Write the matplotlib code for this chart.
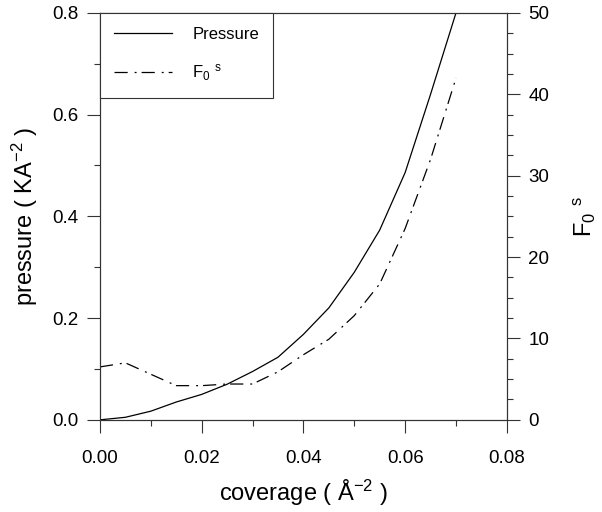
import matplotlib
matplotlib.use("Agg")
import matplotlib.pyplot as plt
from matplotlib.ticker import MultipleLocator, FormatStrFormatter

plt.rcParams['font.family'] = ['Liberation Sans', 'DejaVu Sans']
plt.rcParams['mathtext.fontset'] = 'custom'
plt.rcParams['mathtext.rm'] = 'Liberation Sans'
plt.rcParams['mathtext.it'] = 'Liberation Sans'
plt.rcParams['mathtext.default'] = 'regular'
plt.rcParams['lines.scale_dashes'] = False

coverage = [0.0, 0.005, 0.01, 0.015, 0.02, 0.025, 0.03, 0.035, 0.04, 0.045, 0.05, 0.055, 0.06, 0.065, 0.07]
pressure = [0.0, 0.005, 0.017, 0.035, 0.050, 0.070, 0.095, 0.123, 0.168, 0.220, 0.290, 0.373, 0.486, 0.640, 0.800]
f0s = [6.5, 7.0, 5.6, 4.2, 4.2, 4.4, 4.4, 5.9, 8.0, 9.9, 12.8, 16.7, 23.5, 32.0, 42.0]

fig = plt.figure(figsize=(6.02, 5.12), dpi=100)
ax = fig.add_axes([0.166, 0.180, 0.676, 0.795])
ax2 = ax.twinx()

lc = '#333333'
l1, = ax.plot(coverage, pressure, color='black', lw=0.9, label='Pressure')
l2, = ax2.plot(coverage, f0s, color='black', lw=0.9, dashes=(9.5, 5, 1.4, 3.6), label='F$_0$ $^s$')

ax.set_xlim(0, 0.08)
ax.set_ylim(0, 0.8)
ax2.set_ylim(0, 50)

ax.xaxis.set_major_locator(MultipleLocator(0.02))
ax.xaxis.set_minor_locator(MultipleLocator(0.01))
ax.xaxis.set_major_formatter(FormatStrFormatter('%.2f'))
ax.yaxis.set_major_locator(MultipleLocator(0.2))
ax.yaxis.set_minor_locator(MultipleLocator(0.1))
ax.yaxis.set_major_formatter(FormatStrFormatter('%.1f'))
ax2.yaxis.set_major_locator(MultipleLocator(10))
ax2.yaxis.set_minor_locator(MultipleLocator(2.5))

for a in (ax, ax2):
    a.tick_params(which='major', direction='out', length=9.5, width=0.8, color=lc, labelsize=13.5, pad=6)
    a.tick_params(which='minor', direction='out', length=4.5, width=0.8, color=lc)
    for s in a.spines.values():
        s.set_color(lc)
        s.set_linewidth(0.8)
ax.tick_params(axis='x', pad=12)

ax.set_xlabel('coverage ( Å$^{-2}$ )', fontsize=17, labelpad=8)
ax.set_ylabel('pressure ( KA$^{-2}$ )', fontsize=17, labelpad=9)
ax2.set_ylabel('F$_0$ $^s$', fontsize=17, labelpad=16)

leg = ax2.legend(handles=[l1, l2], loc='upper left', borderaxespad=0, fancybox=False,
                 framealpha=1, edgecolor=lc, fontsize=12, handlelength=3.5,
                 labelspacing=1.25, borderpad=0.85, handletextpad=1.2)
leg.get_frame().set_linewidth(0.8)

fig.savefig('out.png', dpi=100)
